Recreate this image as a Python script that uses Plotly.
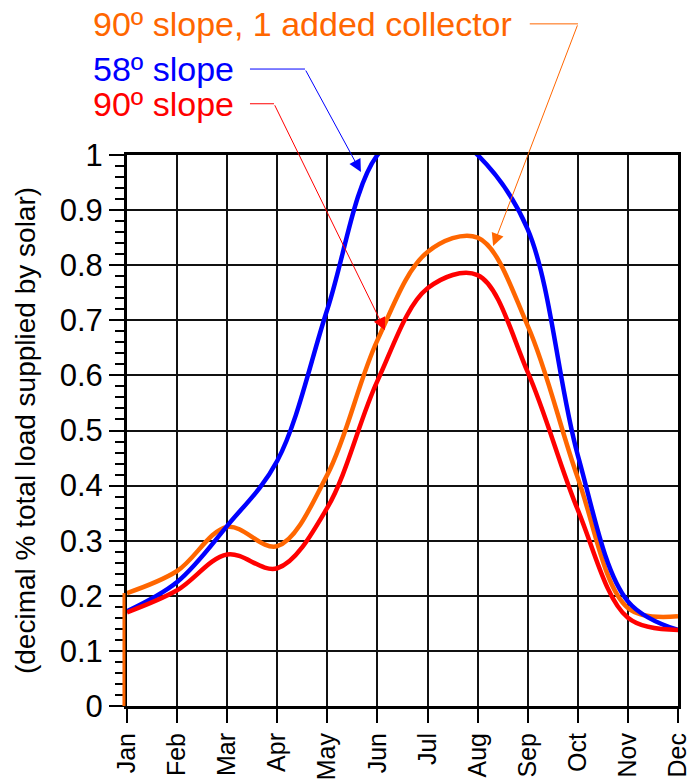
import plotly.graph_objects as go

months = ["Jan", "Feb", "Mar", "Apr", "May", "Jun", "Jul", "Aug", "Sep", "Oct", "Nov", "Dec"]
slope58 = [0.172, 0.225, 0.327, 0.445, 0.72, 1.0, 1.06, 1.0, 0.865, 0.455, 0.19, 0.138]
slope90 = [0.17, 0.21, 0.275, 0.25, 0.36, 0.59, 0.758, 0.782, 0.606, 0.356, 0.16, 0.138]
slope90_added = [0.205, 0.245, 0.325, 0.29, 0.42, 0.664, 0.824, 0.85, 0.69, 0.414, 0.178, 0.163]

BLUE = "#0000FF"
RED = "#FF0000"
ORANGE = "#FF6600"
FONT = "Liberation Sans, Arial, Helvetica, sans-serif"

xs = list(range(len(months)))

fig = go.Figure()
fig.add_trace(go.Scatter(x=xs, y=slope90_added, mode="lines",
                         line=dict(color=ORANGE, width=4.5, shape="spline", smoothing=1.0),
                         name="90º slope, 1 added collector"))
fig.add_trace(go.Scatter(x=xs, y=slope58, mode="lines",
                         line=dict(color=BLUE, width=4.5, shape="spline", smoothing=1.0),
                         name="58º slope"))
fig.add_trace(go.Scatter(x=xs, y=slope90, mode="lines",
                         line=dict(color=RED, width=4.5, shape="spline", smoothing=1.0),
                         name="90º slope"))

# vertical start segment of the orange series at Jan
fig.add_shape(type="line", xref="paper", yref="paper", x0=-0.0055, x1=-0.0055,
              y0=0, y1=slope90_added[0], line=dict(color=ORANGE, width=3), layer="above")

labels = [
    ("90º slope, 1 added collector", ORANGE, 1.238),
    ("58º slope", BLUE, 1.156),
    ("90º slope", RED, 1.093),
]
for text, color, yy in labels:
    fig.add_annotation(x=-0.0645, y=yy, xref="paper", yref="paper", text=text, showarrow=False,
                       xanchor="left", yanchor="middle",
                       font=dict(family=FONT, size=34, color=color))

# leader lines: (color, horizontal start (paper), bend (paper), arrow tip (data))
leaders = [
    (ORANGE, (0.731, 1.238), (0.8185, 1.238), (7.31, 0.835)),
    (BLUE, (0.2232, 1.156), (0.323, 1.156), (4.67, 0.969)),
    (RED, (0.2232, 1.093), (0.2668, 1.093), (5.15, 0.682)),
]
for color, start, bend, tip in leaders:
    fig.add_shape(type="line", xref="paper", yref="paper", x0=start[0], x1=bend[0],
                  y0=start[1], y1=bend[1], line=dict(color=color, width=1))
    fig.add_annotation(x=tip[0], y=tip[1], xref="x", yref="y",
                       ax=bend[0] * 11, ay=bend[1], axref="x", ayref="y",
                       text="", showarrow=True, arrowhead=2,
                       arrowsize=2.5, arrowwidth=1, arrowcolor=color, standoff=0, startstandoff=0)

fig.update_layout(
    width=687, height=783,
    margin=dict(l=127, r=9, t=155, b=77, autoexpand=False),
    paper_bgcolor="white", plot_bgcolor="white",
    showlegend=False,
    font=dict(family=FONT, color="black"),
)
fig.update_xaxes(
    range=[0, 11], tickmode="array", tickvals=xs, ticktext=months, tickangle=-90,
    ticks="outside", ticklen=14, tickwidth=1.5, tickcolor="black",
    showgrid=True, gridcolor="#111111", gridwidth=1.5,
    showline=True, linecolor="black", linewidth=3, mirror=True, zeroline=False,
    automargin=False, ticklabeloverflow="allow",
    tickfont=dict(family=FONT, size=25, color="black"),
)
fig.update_yaxes(
    range=[0, 1], dtick=0.1, tick0=0,
    ticks="outside", ticklen=15, tickwidth=1.5, tickcolor="black",
    minor=dict(dtick=0.02, ticks="outside", ticklen=9, tickwidth=1.5, tickcolor="black", showgrid=False),
    showgrid=True, gridcolor="#111111", gridwidth=1.5,
    showline=True, linecolor="black", linewidth=3, mirror=True, zeroline=False,
    automargin=False,
    tickfont=dict(family=FONT, size=31, color="black"),
    title=dict(text="(decimal % total load supplied by solar)", standoff=16,
               font=dict(family=FONT, size=28, color="black")),
)

fig.write_html("out.html", config={"displayModeBar": False},
               post_script="document.body.style.margin='0';document.body.style.overflow='hidden';")
